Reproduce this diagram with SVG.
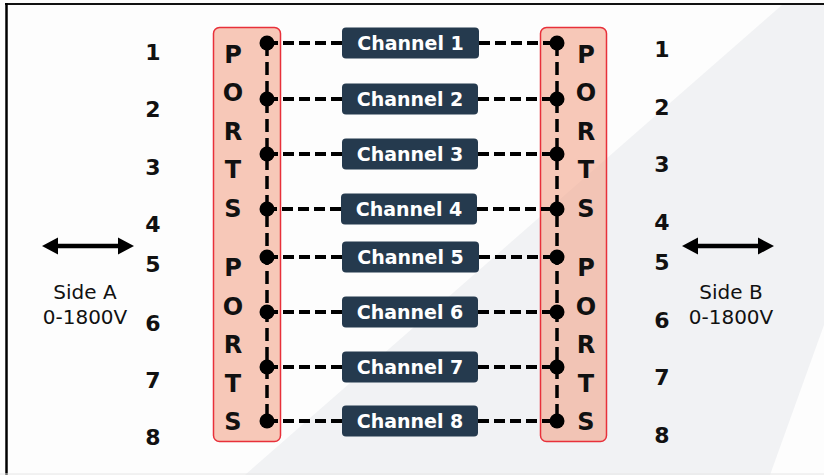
<svg xmlns="http://www.w3.org/2000/svg" width="824" height="475" viewBox="0 0 824 475">
<style>
.port{fill:#f4a58a;fill-opacity:0.6;stroke:#e8303a;stroke-width:1.5}
.pl{font-family:"DejaVu Sans",sans-serif;font-weight:bold;font-size:24px;fill:#111;text-anchor:middle}
.num{font-family:"DejaVu Sans",sans-serif;font-weight:bold;font-size:22px;fill:#111;text-anchor:middle}
.side{font-family:"DejaVu Sans",sans-serif;font-size:20px;fill:#111;text-anchor:middle}
.ch rect{fill:#253a4e}
.ch text{font-family:"DejaVu Sans",sans-serif;font-weight:bold;font-size:19px;fill:#fff;text-anchor:middle}
.hd{stroke:#000;stroke-width:4;stroke-dasharray:11 5;fill:none}
.vd{stroke:#000;stroke-width:3.5;stroke-dasharray:13 6;fill:none}
.dot{fill:#000}
</style>
<rect width="824" height="475" fill="#fdfdfd"/>
<polygon points="782,5 824,5 824,325 770,475 245,475" fill="#f1f2f4"/>
<line x1="5" y1="4" x2="824" y2="4" stroke="#111" stroke-width="2"/>
<line x1="6.5" y1="3" x2="6.5" y2="475" stroke="#000" stroke-width="2.5"/>
<line x1="0" y1="474" x2="824" y2="474" stroke="#e6e6e6" stroke-width="1"/>

<g id="ports-left">
<rect class="port" x="213.5" y="27.5" width="67" height="414" rx="6"/>
<text class="pl" x="233" y="63">P</text>
<text class="pl" x="233" y="101">O</text>
<text class="pl" x="233" y="140">R</text>
<text class="pl" x="233" y="178">T</text>
<text class="pl" x="233" y="217">S</text>
<text class="pl" x="233" y="276">P</text>
<text class="pl" x="233" y="315">O</text>
<text class="pl" x="233" y="353">R</text>
<text class="pl" x="233" y="392">T</text>
<text class="pl" x="233" y="430">S</text>
</g>
<g id="ports-right">
<rect class="port" x="540.5" y="27.5" width="66" height="414" rx="6"/>
<text class="pl" x="586" y="63">P</text>
<text class="pl" x="586" y="101">O</text>
<text class="pl" x="586" y="140">R</text>
<text class="pl" x="586" y="178">T</text>
<text class="pl" x="586" y="217">S</text>
<text class="pl" x="586" y="276">P</text>
<text class="pl" x="586" y="315">O</text>
<text class="pl" x="586" y="353">R</text>
<text class="pl" x="586" y="392">T</text>
<text class="pl" x="586" y="430">S</text>
</g>

<g id="connectors">
<line class="vd" x1="267" y1="43" x2="267" y2="421"/>
<line class="vd" x1="557" y1="43" x2="557" y2="421"/>
<line class="hd" x1="342" y1="43" x2="267" y2="43"/>
<line class="hd" x1="479" y1="43" x2="557" y2="43"/>
<line class="hd" x1="342" y1="99" x2="267" y2="99"/>
<line class="hd" x1="478" y1="99" x2="557" y2="99"/>
<line class="hd" x1="342" y1="154" x2="267" y2="154"/>
<line class="hd" x1="478" y1="154" x2="557" y2="154"/>
<line class="hd" x1="341" y1="209" x2="267" y2="209"/>
<line class="hd" x1="477" y1="209" x2="557" y2="209"/>
<line class="hd" x1="342" y1="257" x2="267" y2="257"/>
<line class="hd" x1="479" y1="257" x2="557" y2="257"/>
<line class="hd" x1="342" y1="312" x2="267" y2="312"/>
<line class="hd" x1="478" y1="312" x2="557" y2="312"/>
<line class="hd" x1="342" y1="367" x2="267" y2="367"/>
<line class="hd" x1="478" y1="367" x2="557" y2="367"/>
<line class="hd" x1="342" y1="421" x2="267" y2="421"/>
<line class="hd" x1="478" y1="421" x2="557" y2="421"/>
<g class="dot">
<circle cx="267" cy="43" r="7.5"/><circle cx="267" cy="99" r="7.5"/><circle cx="267" cy="154" r="7.5"/><circle cx="267" cy="209" r="7.5"/>
<circle cx="267" cy="257" r="7.5"/><circle cx="267" cy="312" r="7.5"/><circle cx="267" cy="367" r="7.5"/><circle cx="267" cy="421" r="7.5"/>
<circle cx="557" cy="43" r="7.5"/><circle cx="557" cy="99" r="7.5"/><circle cx="557" cy="154" r="7.5"/><circle cx="557" cy="209" r="7.5"/>
<circle cx="557" cy="257" r="7.5"/><circle cx="557" cy="312" r="7.5"/><circle cx="557" cy="367" r="7.5"/><circle cx="557" cy="421" r="7.5"/>
</g>
<path d="M42,246 L58,237.5 L58,243.8 L118,243.8 L118,237.5 L134,246 L118,254.5 L118,248.2 L58,248.2 L58,254.5 Z" fill="#000"/>
<path d="M682,246 L698,237.5 L698,243.8 L758,243.8 L758,237.5 L774,246 L758,254.5 L758,248.2 L698,248.2 L698,254.5 Z" fill="#000"/>
</g>

<g id="channel-1" class="ch"><rect x="342" y="27.5" width="137" height="31" rx="4"/><text x="410.5" y="50">Channel 1</text></g>
<g id="channel-2" class="ch"><rect x="342" y="83.5" width="136" height="31" rx="4"/><text x="410" y="106">Channel 2</text></g>
<g id="channel-3" class="ch"><rect x="342" y="138.5" width="136" height="31" rx="4"/><text x="410" y="161">Channel 3</text></g>
<g id="channel-4" class="ch"><rect x="341" y="193.5" width="136" height="31" rx="4"/><text x="409" y="216">Channel 4</text></g>
<g id="channel-5" class="ch"><rect x="342" y="241.5" width="137" height="31" rx="4"/><text x="410.5" y="264">Channel 5</text></g>
<g id="channel-6" class="ch"><rect x="342" y="296.5" width="136" height="31" rx="4"/><text x="410" y="319">Channel 6</text></g>
<g id="channel-7" class="ch"><rect x="342" y="351.5" width="136" height="31" rx="4"/><text x="410" y="374">Channel 7</text></g>
<g id="channel-8" class="ch"><rect x="342" y="405.5" width="136" height="31" rx="4"/><text x="410" y="428">Channel 8</text></g>

<g id="numbers-left">
<text class="num" x="153" y="60">1</text>
<text class="num" x="153" y="117">2</text>
<text class="num" x="153" y="175">3</text>
<text class="num" x="153" y="232">4</text>
<text class="num" x="153" y="272">5</text>
<text class="num" x="153" y="331">6</text>
<text class="num" x="153" y="388">7</text>
<text class="num" x="153" y="445">8</text>
</g>
<g id="numbers-right">
<text class="num" x="662" y="57">1</text>
<text class="num" x="662" y="115">2</text>
<text class="num" x="662" y="172">3</text>
<text class="num" x="662" y="230">4</text>
<text class="num" x="662" y="270">5</text>
<text class="num" x="662" y="328">6</text>
<text class="num" x="662" y="385">7</text>
<text class="num" x="662" y="443">8</text>
</g>
<g id="side-a">
<text class="side" x="85" y="299">Side A</text>
<text class="side" x="85" y="324">0-1800V</text>
</g>
<g id="side-b">
<text class="side" x="731" y="299">Side B</text>
<text class="side" x="731" y="324">0-1800V</text>
</g>
</svg>
